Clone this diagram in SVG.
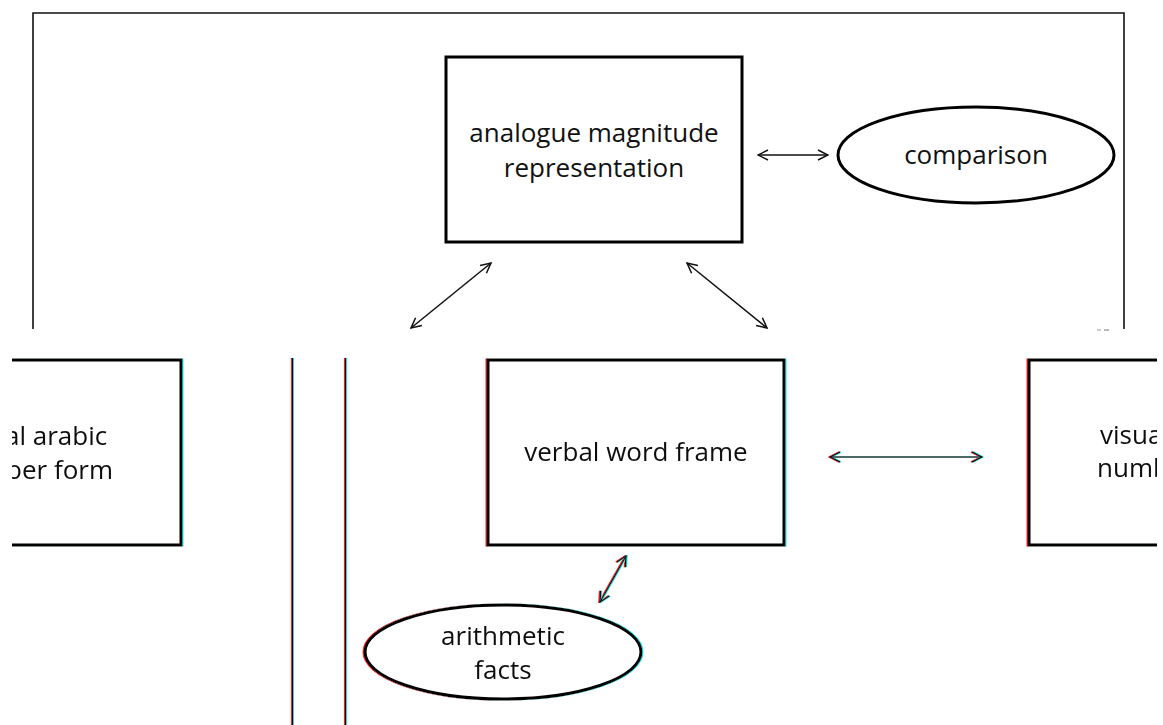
<svg xmlns="http://www.w3.org/2000/svg" width="1163" height="725" viewBox="0 0 1163 725">
<style>
  .box { fill: #fff; stroke: #000; stroke-width: 3; }
  .frame { fill: none; stroke: #111; stroke-width: 1.6; }
  .lbl { font-family: "Open Sans", "Liberation Sans", sans-serif; font-size: 26px; fill: #111; }
  .mid { text-anchor: middle; }
  .conn { stroke: #111; stroke-width: 1.5; fill: none; marker-start: url(#ah); marker-end: url(#ah); }
  .vline { stroke: #000; stroke-width: 1.2; }
</style>
<defs>
  <marker id="ah" viewBox="0 0 12 12" refX="11" refY="6" markerWidth="12" markerHeight="12" markerUnits="userSpaceOnUse" orient="auto-start-reverse">
    <path d="M1,1 L11,6 L1,11" fill="none" stroke="#111" stroke-width="1.5"/>
  </marker>
  <clipPath id="bottomClip"><rect x="12" y="329" width="1145" height="396"/></clipPath>
  <filter id="ca" filterUnits="userSpaceOnUse" x="0" y="320" width="1163" height="405">
    <feOffset in="SourceAlpha" dx="-1" dy="0" result="a1"/>
    <feFlood flood-color="#ff0000" flood-opacity="0.85" result="r"/>
    <feComposite in="r" in2="a1" operator="in" result="red"/>
    <feOffset in="SourceAlpha" dx="1" dy="0" result="a2"/>
    <feFlood flood-color="#00e0e0" flood-opacity="0.85" result="c"/>
    <feComposite in="c" in2="a2" operator="in" result="cyan"/>
    <feMerge><feMergeNode in="red"/><feMergeNode in="cyan"/><feMergeNode in="SourceGraphic"/></feMerge>
  </filter>
</defs>
<rect width="1163" height="725" fill="#fff"/>

<g id="frame">
  <path class="frame" d="M33,329 L33,13 L1124,13 L1124,329"/>
  <line x1="1097" y1="330" x2="1101" y2="330" stroke="#999" stroke-width="1"/>
  <line x1="1104" y1="330" x2="1109" y2="330" stroke="#777" stroke-width="1"/>
</g>

<g id="analogue-magnitude">
  <rect class="box" x="446" y="57" width="296" height="185"/>
  <text class="lbl mid" x="594" y="142">analogue magnitude</text>
  <text class="lbl mid" x="594" y="177">representation</text>
</g>

<g id="comparison">
  <ellipse cx="976" cy="155" rx="138" ry="48" fill="#fff" stroke="#000" stroke-width="3"/>
  <text class="lbl mid" x="976" y="164">comparison</text>
</g>

<g id="connectors-top">
  <line class="conn" x1="758" y1="155" x2="828" y2="155"/>
  <line class="conn" x1="491" y1="263" x2="411" y2="328"/>
  <line class="conn" x1="687" y1="263" x2="767" y2="328"/>
</g>

<g clip-path="url(#bottomClip)">
<g filter="url(#ca)">
  <g id="verticals">
    <line class="vline" x1="292.5" y1="358" x2="292.5" y2="725"/>
    <line class="vline" x1="345.5" y1="358" x2="345.5" y2="725" stroke="#c00000"/>
  </g>

  <g id="arabic-number-form">
    <rect class="box" x="-40" y="360" width="221" height="185"/>
    <text class="lbl" x="5" y="445">al arabic</text>
    <text class="lbl" x="6" y="479">ber form</text>
  </g>

  <g id="verbal-word-frame">
    <rect class="box" x="488" y="360" width="296" height="185"/>
    <text class="lbl mid" x="636" y="461">verbal word frame</text>
  </g>

  <g id="visual-number-form">
    <rect class="box" x="1029" y="360" width="200" height="185"/>
    <text class="lbl" x="1100" y="444">visua</text>
    <text class="lbl" x="1097" y="477">numb</text>
  </g>

  <g id="arithmetic-facts">
    <ellipse cx="503" cy="652" rx="138" ry="47" fill="#fff" stroke="#000" stroke-width="3"/>
    <text class="lbl mid" x="503" y="645">arithmetic</text>
    <text class="lbl mid" x="503" y="679">facts</text>
  </g>

  <g id="connectors-bottom">
    <line class="conn" x1="830" y1="457" x2="982" y2="457"/>
    <line class="conn" x1="626" y1="556" x2="600" y2="602"/>
  </g>
</g>
</g>
</svg>
